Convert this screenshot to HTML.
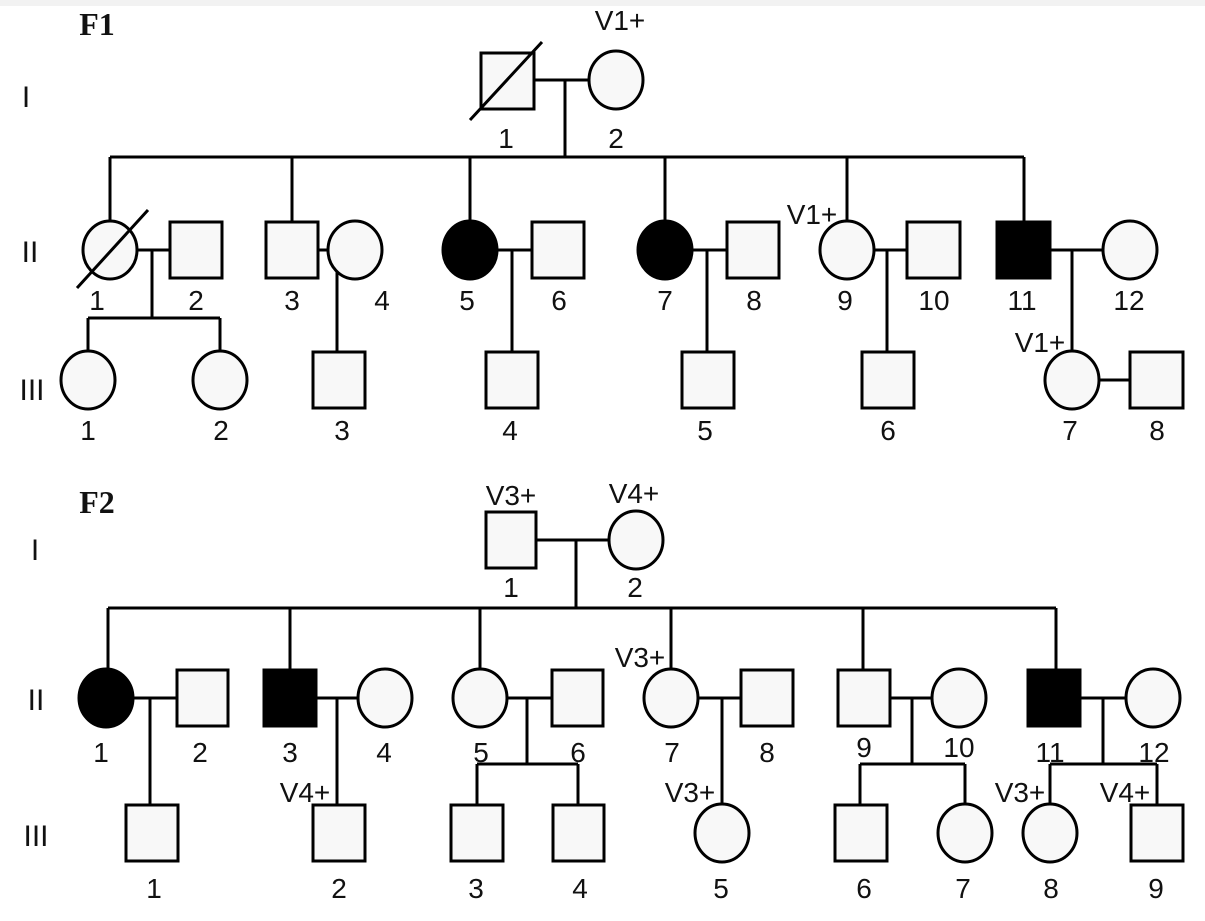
<!DOCTYPE html>
<html><head><style>
html,body{margin:0;padding:0;background:#fff;width:1205px;height:921px;overflow:hidden}
svg text{font-family:"Liberation Sans",sans-serif;font-size:28px;fill:#111}
.r{font-family:"Liberation Serif",serif;font-weight:bold;font-size:32px}
.n{font-size:30px}
</style></head><body>
<svg width="1205" height="921" viewBox="0 0 1205 921" xmlns="http://www.w3.org/2000/svg">
<rect x="0" y="0" width="1205" height="6" fill="#f2f2f2"/>
<g stroke="#000" stroke-width="3" fill="#f8f8f8">
<path fill="none" d="M534 80H589M565 80V157M110 157H1024M110 157V222M292 157V222M470 157V222M665 157V222M847 157V222M1024 157V222
M137 250H170M152 250V318M88 318H220M88 318V352M220 318V352
M318 250H328M337 250V352M328 250H382
M497 250H532M512 250V352
M692 250H727M707 250V352
M874 250H907M887 250V352
M1050 250H1103M1072 250V352
M1099 380H1130"/>
<rect x="481" y="53" width="53" height="56"/>
<ellipse cx="616" cy="80" rx="27" ry="29"/>
<ellipse cx="110" cy="250" rx="27" ry="29"/>
<rect x="170" y="222" width="52" height="56"/>
<rect x="266" y="222" width="52" height="56"/>
<ellipse cx="355" cy="250" rx="27" ry="29"/>
<ellipse cx="470" cy="250" rx="27" ry="29" fill="#000"/>
<rect x="532" y="222" width="52" height="56"/>
<ellipse cx="665" cy="250" rx="27" ry="29" fill="#000"/>
<rect x="727" y="222" width="52" height="56"/>
<ellipse cx="847" cy="250" rx="27" ry="29"/>
<rect x="907" y="222" width="53" height="56"/>
<rect x="997" y="222" width="53" height="56" fill="#000"/>
<ellipse cx="1130" cy="250" rx="27" ry="29"/>
<ellipse cx="88" cy="380" rx="27" ry="29"/>
<ellipse cx="220" cy="380" rx="27" ry="29"/>
<rect x="313" y="352" width="52" height="56"/>
<rect x="486" y="352" width="52" height="56"/>
<rect x="682" y="352" width="52" height="56"/>
<rect x="862" y="352" width="52" height="56"/>
<ellipse cx="1072" cy="380" rx="27" ry="29"/>
<rect x="1130" y="352" width="53" height="56"/>
<path fill="none" d="M470 120L542 42M77 288L148 210"/>
<path fill="none" d="M536 540H609M576 540V608M108 608H1056M108 608V670M290 608V670M480 608V670M671 608V670M863 608V670M1056 608V670
M133 698H177M150 698V805
M316 698H358M337 698V805
M507 698H552M527 698V764M477 764H578M477 764V805M578 764V805
M698 698H741M722 698V805
M890 698H932M912 698V764M860 764H965M860 764V805M965 764V805
M1080 698H1126M1103 698V764M1050 764H1157M1050 764V805M1157 764V805"/>
<rect x="486" y="512" width="50" height="56"/>
<ellipse cx="636" cy="540" rx="27" ry="29"/>
<ellipse cx="106" cy="698" rx="27" ry="29" fill="#000"/>
<rect x="177" y="670" width="51" height="56"/>
<rect x="264" y="670" width="52" height="56" fill="#000"/>
<ellipse cx="385" cy="698" rx="27" ry="29"/>
<ellipse cx="480" cy="698" rx="27" ry="29"/>
<rect x="552" y="670" width="51" height="56"/>
<ellipse cx="671" cy="698" rx="27" ry="29"/>
<rect x="741" y="670" width="52" height="56"/>
<rect x="838" y="670" width="52" height="56"/>
<ellipse cx="959" cy="698" rx="27" ry="29"/>
<rect x="1028" y="670" width="52" height="56" fill="#000"/>
<ellipse cx="1153" cy="698" rx="27" ry="29"/>
<rect x="126" y="805" width="52" height="56"/>
<rect x="313" y="805" width="52" height="56"/>
<rect x="451" y="805" width="52" height="56"/>
<rect x="553" y="805" width="51" height="56"/>
<ellipse cx="722" cy="833" rx="27" ry="29"/>
<rect x="835" y="805" width="52" height="56"/>
<ellipse cx="965" cy="833" rx="27" ry="29"/>
<ellipse cx="1050" cy="833" rx="27" ry="29"/>
<rect x="1131" y="805" width="52" height="56"/>
</g>
<g text-anchor="middle">
<text class="r" x="97" y="35">F1</text>
<text class="r" x="97" y="513">F2</text>
<text class="n" x="26" y="107">I</text>
<text class="n" x="30" y="262">II</text>
<text class="n" x="32" y="400">III</text>
<text class="n" x="35" y="560">I</text>
<text class="n" x="36" y="710">II</text>
<text class="n" x="36" y="846">III</text>
<text x="620" y="30">V1+</text>
<text x="506" y="148">1</text><text x="616" y="148">2</text>
<text x="97" y="310">1</text><text x="196" y="310">2</text><text x="292" y="310">3</text><text x="382" y="310">4</text>
<text x="467" y="310">5</text><text x="559" y="310">6</text><text x="665" y="310">7</text><text x="754" y="310">8</text>
<text x="845" y="310">9</text><text x="934" y="310">10</text><text x="1022" y="310">11</text><text x="1129" y="310">12</text>
<text x="812" y="224">V1+</text><text x="1040" y="352">V1+</text>
<text x="88" y="440">1</text><text x="221" y="440">2</text><text x="342" y="440">3</text><text x="510" y="440">4</text>
<text x="705" y="440">5</text><text x="888" y="440">6</text><text x="1070" y="440">7</text><text x="1157" y="440">8</text>
<text x="511" y="505">V3+</text><text x="634" y="503">V4+</text>
<text x="511" y="597">1</text><text x="635" y="597">2</text>
<text x="101" y="762">1</text><text x="200" y="762">2</text><text x="290" y="762">3</text><text x="384" y="762">4</text>
<text x="481" y="762">5</text><text x="578" y="762">6</text><text x="672" y="762">7</text><text x="767" y="762">8</text>
<text x="864" y="757">9</text><text x="959" y="757">10</text><text x="1050" y="762">11</text><text x="1154" y="762">12</text>
<text x="640" y="667">V3+</text>
<text x="305" y="802">V4+</text><text x="690" y="802">V3+</text><text x="1020" y="802">V3+</text><text x="1125" y="802">V4+</text>
<text x="154" y="898">1</text><text x="339" y="898">2</text><text x="476" y="898">3</text><text x="580" y="898">4</text>
<text x="721" y="898">5</text><text x="864" y="898">6</text><text x="963" y="898">7</text><text x="1051" y="898">8</text><text x="1156" y="898">9</text>
</g>
</svg>
</body></html>
